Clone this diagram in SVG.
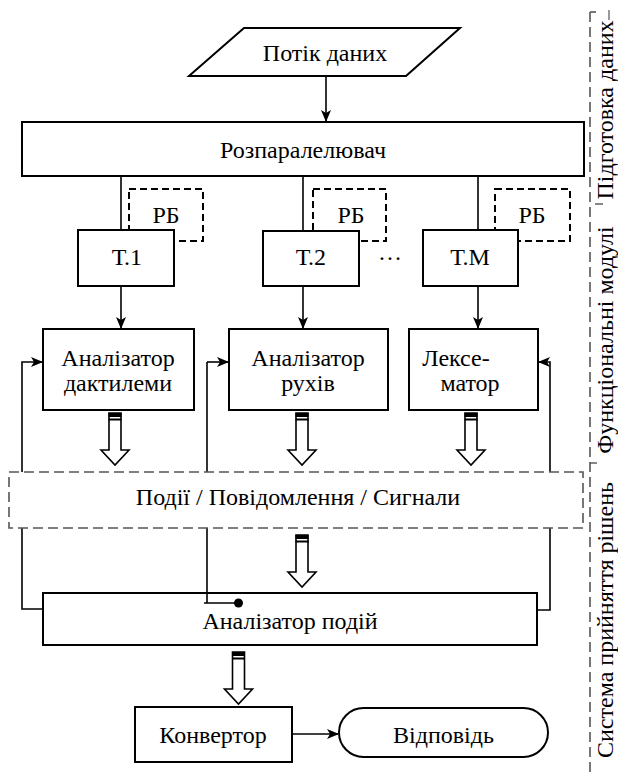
<svg xmlns="http://www.w3.org/2000/svg" width="618" height="777" viewBox="0 0 618 777" font-family="Liberation Serif, Times New Roman, serif" font-size="24">
<defs>
<style>
text{fill:#000;text-anchor:middle;font-family:"Liberation Serif","Times New Roman",serif;font-size:24px}
.box{fill:#fff;stroke:#000;stroke-width:2}
.dash{fill:#fff;stroke:#000;stroke-width:2;stroke-dasharray:7 4}
.gdash{fill:#fff;stroke:#555;stroke-width:1.6;stroke-dasharray:10 5}
.ln{fill:none;stroke:#000;stroke-width:1.6}
.side{stroke:#555;fill:none}
</style>
<marker id="ah" markerWidth="12" markerHeight="10" refX="11" refY="5" orient="auto" markerUnits="userSpaceOnUse">
<path d="M0,0 L12,5 L0,10 L3,5 Z" fill="#000"/>
</marker>
<g id="hollow">
<polygon points="-6,0 6,0 6,37 14,37 0,52 -14,37 -6,37" fill="#fff" stroke="#000" stroke-width="1.6"/>
<rect x="-6.5" y="0" width="13" height="4" fill="#000"/>
<rect x="-6.5" y="5.5" width="13" height="2" fill="#000"/>
</g>
</defs>
<rect width="618" height="777" fill="#fff"/>

<g id="connectors">
<line class="ln" x1="326" y1="76" x2="326" y2="121" marker-end="url(#ah)"/>
<line class="ln" x1="121" y1="176" x2="121" y2="230"/>
<line class="ln" x1="303" y1="176" x2="303" y2="230"/>
<line class="ln" x1="478" y1="176" x2="478" y2="230"/>
<line class="ln" x1="121" y1="286" x2="121" y2="328" marker-end="url(#ah)"/>
<line class="ln" x1="303" y1="286" x2="303" y2="328" marker-end="url(#ah)"/>
<line class="ln" x1="478" y1="286" x2="478" y2="328" marker-end="url(#ah)"/>
<polyline class="ln" points="43,609 22,609 22,362 42,362" marker-end="url(#ah)"/>
<polyline class="ln" points="537,610 550,610 550,362 539,362" marker-end="url(#ah)"/>
<line class="ln" x1="207" y1="362" x2="228" y2="362" marker-end="url(#ah)"/>
<line class="ln" x1="207" y1="362" x2="207" y2="593"/>
<line class="ln" x1="292" y1="734" x2="338" y2="734" marker-end="url(#ah)"/>
</g>

<g id="potik"><polygon class="box" points="244,28 460,28 406,76 189,76"/><text x="325" y="61">Потік даних</text></g>
<g id="rozp"><rect class="box" x="22" y="122" width="562" height="54"/><text x="303" y="158">Розпаралелювач</text></g>

<g id="rb1"><rect class="dash" x="129" y="189" width="74" height="52"/><text x="166" y="223">РБ</text></g>
<g id="rb2"><rect class="dash" x="313" y="189" width="73" height="52"/><text x="351" y="223">РБ</text></g>
<g id="rb3"><rect class="dash" x="495" y="189" width="75" height="52"/><text x="532" y="223">РБ</text></g>

<g id="t1"><rect class="box" x="78" y="230" width="96" height="56"/><text x="127" y="265">Т.1</text></g>
<g id="t2"><rect class="box" x="263" y="231" width="96" height="55"/><text x="311" y="265">Т.2</text></g>
<text x="390" y="260">…</text>
<g id="tm"><rect class="box" x="423" y="230" width="95" height="56"/><text x="470" y="265">Т.М</text></g>

<g id="an1"><rect class="box" x="43" y="329" width="151" height="81"/><text x="118" y="366">Аналізатор</text><text x="118" y="391">дактилеми</text></g>
<g id="an2"><rect class="box" x="229" y="329" width="159" height="81"/><text x="308" y="366">Аналізатор</text><text x="308" y="391">рухів</text></g>
<g id="lex"><rect class="box" x="409" y="329" width="129" height="81"/><text x="456" y="366">Лексе-</text><text x="470" y="391">матор</text></g>

<g id="ha1"><use href="#hollow" x="115" y="413"/></g>
<g id="ha2"><use href="#hollow" x="302" y="413"/></g>
<g id="ha3"><use href="#hollow" x="471" y="413"/></g>

<g id="podii"><rect class="gdash" x="9" y="472" width="574" height="56"/><text x="298" y="505">Події / Повідомлення / Сигнали</text></g>

<g id="ha4"><use href="#hollow" x="302" y="535"/></g>

<g id="anpod"><rect class="box" x="43" y="593" width="494" height="52"/><text x="290" y="629">Аналізатор подій</text></g>
<g id="dotlink"><polyline class="ln" points="207,593 207,603 204,603 238,603"/><circle cx="238.5" cy="603" r="4.5" fill="#000"/></g>

<g id="ha5"><use href="#hollow" x="238.5" y="652"/></g>

<g id="konv"><rect class="box" x="135" y="707" width="157" height="55"/><text x="213" y="743">Конвертор</text></g>
<g id="vidp"><rect class="box" x="339" y="708" width="209" height="49" rx="24.5"/><text x="443.5" y="743">Відповідь</text></g>

<g id="sidebar">
<line class="side" x1="590" y1="12" x2="590" y2="775" stroke-width="1.6" stroke-dasharray="10 5"/>
<line class="side" x1="590" y1="12" x2="596" y2="12" stroke-width="1.6"/>
<line class="side" x1="609" y1="10" x2="609" y2="20" stroke-width="1.2"/>
<line class="side" x1="595" y1="204" x2="603" y2="204" stroke-width="1.4"/>
<line class="side" x1="590" y1="463" x2="597" y2="463" stroke-width="1.4"/>
<text transform="translate(613,110) rotate(-90)">Підготовка даних</text>
<text transform="translate(613,340) rotate(-90)">Функціональні модулі</text>
<text transform="translate(613,620) rotate(-90)">Система прийняття рішень</text>
</g>
</svg>
